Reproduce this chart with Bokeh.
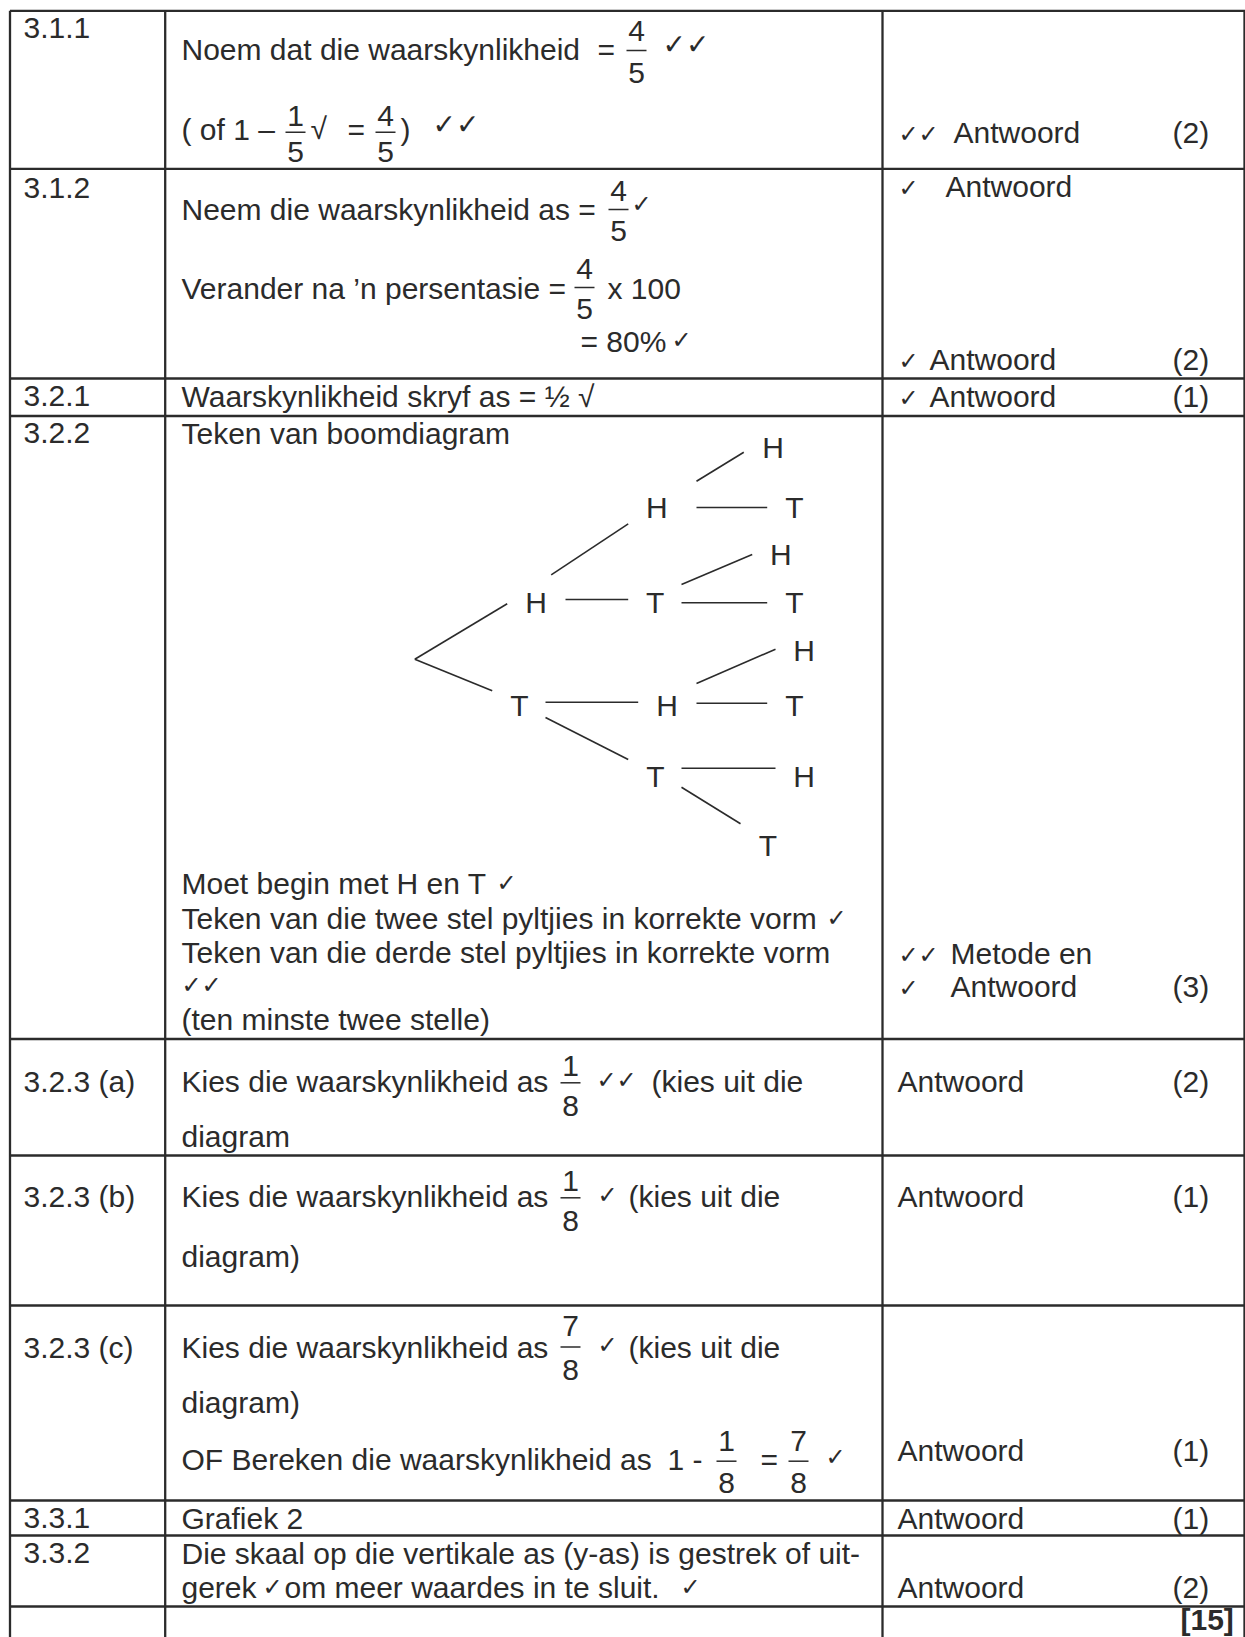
from bokeh.plotting import figure
from bokeh.models import Range1d, ColumnDataSource
from bokeh.core.properties import value
from bokeh.embed import file_html
from bokeh.resources import INLINE

INK = "#2b2b2b"
FONT = "Liberation Sans"
SYM = "DejaVu Sans"
FS = 30

# ---------------- table content ----------------
row_labels = ["3.1.1", "3.1.2", "3.2.1", "3.2.2", "3.2.3 (a)", "3.2.3 (b)",
              "3.2.3 (c)", "3.3.1", "3.3.2"]
row_label_base = [37, 197, 405, 442, 1090, 1205, 1356, 1527, 1562]

row_edges = [10.3, 168.3, 378, 415.5, 1038.5, 1155, 1305, 1500, 1535, 1606]
col_edges = [9.5, 164.7, 882, 1244]

marks = ["(2)", "(2)", "(1)", "(3)", "(2)", "(1)", "(1)", "(1)", "(2)"]
mark_base = [141.7, 368, 405, 995, 1090, 1205, 1459, 1527, 1596]
total_text = "[15]"

body_text = ["Noem dat die waarskynlikheid", "=", "( of 1 \u2013", "\u221a", "=", ")",
             "Neem die waarskynlikheid as =", "Verander na \u2019n persentasie =", "x 100",
             "= 80%", "Waarskynlikheid skryf as = \u00bd \u221a", "Teken van boomdiagram",
             "Moet begin met H en T", "Teken van die twee stel pyltjies in korrekte vorm",
             "Teken van die derde stel pyltjies in korrekte vorm", "(ten minste twee stelle)",
             "Kies die waarskynlikheid as", "(kies uit die", "diagram",
             "Kies die waarskynlikheid as", "(kies uit die", "diagram)",
             "Kies die waarskynlikheid as", "(kies uit die", "diagram)",
             "OF Bereken die waarskynlikheid as", "1 -", "=",
             "Grafiek 2", "Die skaal op die vertikale as (y-as) is gestrek of uit-",
             "gerek", "om meer waardes in te sluit."]
body_x = [181, 597, 181, 310, 347, 400,
          181, 181, 607,
          580, 181, 181,
          181, 181,
          181, 181,
          181, 651, 181,
          181, 628, 181,
          181, 628, 181,
          181, 667, 760,
          181, 181,
          181, 284]
body_y = [58, 58, 138, 137, 138, 138,
          218, 297, 297,
          350, 405, 442,
          892, 927,
          961, 1028,
          1090, 1090, 1145,
          1205, 1205, 1265,
          1356, 1356, 1411,
          1468, 1468, 1468,
          1527, 1562,
          1596, 1596]

answer_text = ["Antwoord", "Antwoord", "Antwoord", "Antwoord", "Metode en", "Antwoord",
               "Antwoord", "Antwoord", "Antwoord", "Antwoord", "Antwoord"]
answer_x = [953, 945, 929, 929, 950, 950, 897, 897, 897, 897, 897]
answer_y = [141.7, 195, 368, 405, 962, 995, 1090, 1205, 1459, 1527, 1596]

# fractions: numerator, denominator
frac_num = ["4", "1", "4", "4", "4", "1", "1", "7", "1", "7"]
frac_den = ["5", "5", "5", "5", "5", "8", "8", "8", "8", "8"]
frac_cx = [636, 295, 385, 618, 584, 570, 570, 570, 726, 798]
frac_bar = [50, 131.7, 131.7, 209, 287, 1082.3, 1197.3, 1346.5, 1460.7, 1460.7]
frac_nb = [40, 125, 125, 200, 278, 1075, 1190, 1335, 1450, 1450]
frac_db = [82, 161, 161, 240, 318, 1115, 1230, 1379, 1492, 1492]
frac_hw = 10

# tick marks: text, x, baseline, heavy?
tick_text = ["\u2713\u2713", "\u2713\u2713", "\u2713\u2713", "\u2713", "\u2713", "\u2713", "\u2713",
             "\u2713", "\u2713", "\u2713", "\u2713\u2713", "\u2713\u2713", "\u2713",
             "\u2713\u2713", "\u2713", "\u2713", "\u2713", "\u2713", "\u2713"]
tick_x = [662, 432, 898, 631, 898, 671, 898,
          898, 496, 826, 181, 898, 898,
          596, 597, 597, 825, 262, 680]
tick_y = [53, 133, 141, 211, 195, 347, 368,
          405, 890, 925, 992, 962, 995,
          1087, 1202, 1352, 1464, 1594, 1594]
tick_heavy = [True, True] + [False] * 17

# tree diagram nodes (H / T) and branches
node_text = ["H", "T", "H", "T", "H", "T", "H", "T", "H", "T", "H", "T", "H", "T"]
node_x = [535.7, 519, 656.3, 654.7, 666.7, 655, 772.7, 794, 780.3, 794, 803.7, 794, 803.7, 767.5]
node_y = [601, 704, 506, 601, 704, 775, 446, 506, 553, 601, 649, 704, 775, 844]
branch_x0 = [506.7, 414.3, 550.7, 565, 545, 545, 696, 696, 681, 681, 696, 696, 681, 681]
branch_y0 = [603.3, 658.7, 574.3, 599, 701.7, 717, 480.7, 507, 584, 602.3, 683, 702.7, 767.7, 786.7]
branch_x1 = [414.3, 491.7, 627.7, 627.7, 637.7, 627.7, 743.3, 766.7, 751.7, 766.7, 775, 766.7, 775, 740]
branch_y1 = [658.7, 690.3, 523.3, 599, 701.7, 759, 451.7, 507, 554, 602.3, 648.7, 702.7, 767.7, 823.3]

# ---------------- figure ----------------
W, H = 1245, 1637
p = figure(width=W, height=H, x_range=Range1d(0, W), y_range=Range1d(H, 0),
           output_backend="svg", toolbar_location=None,
           x_axis_location=None, y_axis_location=None, min_border=0)
p.grid.visible = False
p.outline_line_color = None
p.background_fill_color = "white"
p.border_fill_color = "white"

TOP, BOTTOM = row_edges[0], 1645
p.segment(x0=[col_edges[0]] * len(row_edges), x1=[1250] * len(row_edges),
          y0=row_edges, y1=row_edges, line_color=INK, line_width=2.3)
p.segment(x0=col_edges, x1=col_edges, y0=[TOP] * len(col_edges), y1=[BOTTOM] * len(col_edges),
          line_color=INK, line_width=2.3)

K = 0.31  # baseline correction (fraction of font size)


def txt(xs, ys, texts, font=FONT, size=FS, align="left", style="normal"):
    src = ColumnDataSource(dict(x=xs, y=[y - K * size for y in ys], t=texts))
    p.text(x="x", y="y", text="t", source=src, text_font=value(font),
           text_font_size=f"{size}px", text_align=align, text_baseline="alphabetic",
           text_color=INK, text_font_style=style)


txt([23] * len(row_labels), row_label_base, row_labels)
txt([1172] * len(marks), mark_base, marks)
txt([1180], [1628], [total_text], style="bold")
txt(body_x, body_y, body_text)
txt(answer_x, answer_y, answer_text)

# fractions
txt(frac_cx, frac_nb, frac_num, align="center")
txt(frac_cx, frac_db, frac_den, align="center")
p.segment(x0=[c - frac_hw for c in frac_cx], x1=[c + frac_hw for c in frac_cx],
          y0=frac_bar, y1=frac_bar, line_color=INK, line_width=1.5)

# ticks
hv = [i for i, h in enumerate(tick_heavy) if h]
lt = [i for i, h in enumerate(tick_heavy) if not h]
txt([tick_x[i] for i in hv], [tick_y[i] for i in hv], [tick_text[i] for i in hv],
    font=SYM, size=28, style="bold")
txt([tick_x[i] for i in lt], [tick_y[i] for i in lt], [tick_text[i] for i in lt],
    font=SYM, size=24)

# tree
txt(node_x, [y + 10.7 for y in node_y], node_text, align="center")
p.segment(x0=branch_x0, y0=branch_y0, x1=branch_x1, y1=branch_y1, line_color=INK, line_width=1.6)

open("out.html", "w").write(file_html(p, INLINE))
